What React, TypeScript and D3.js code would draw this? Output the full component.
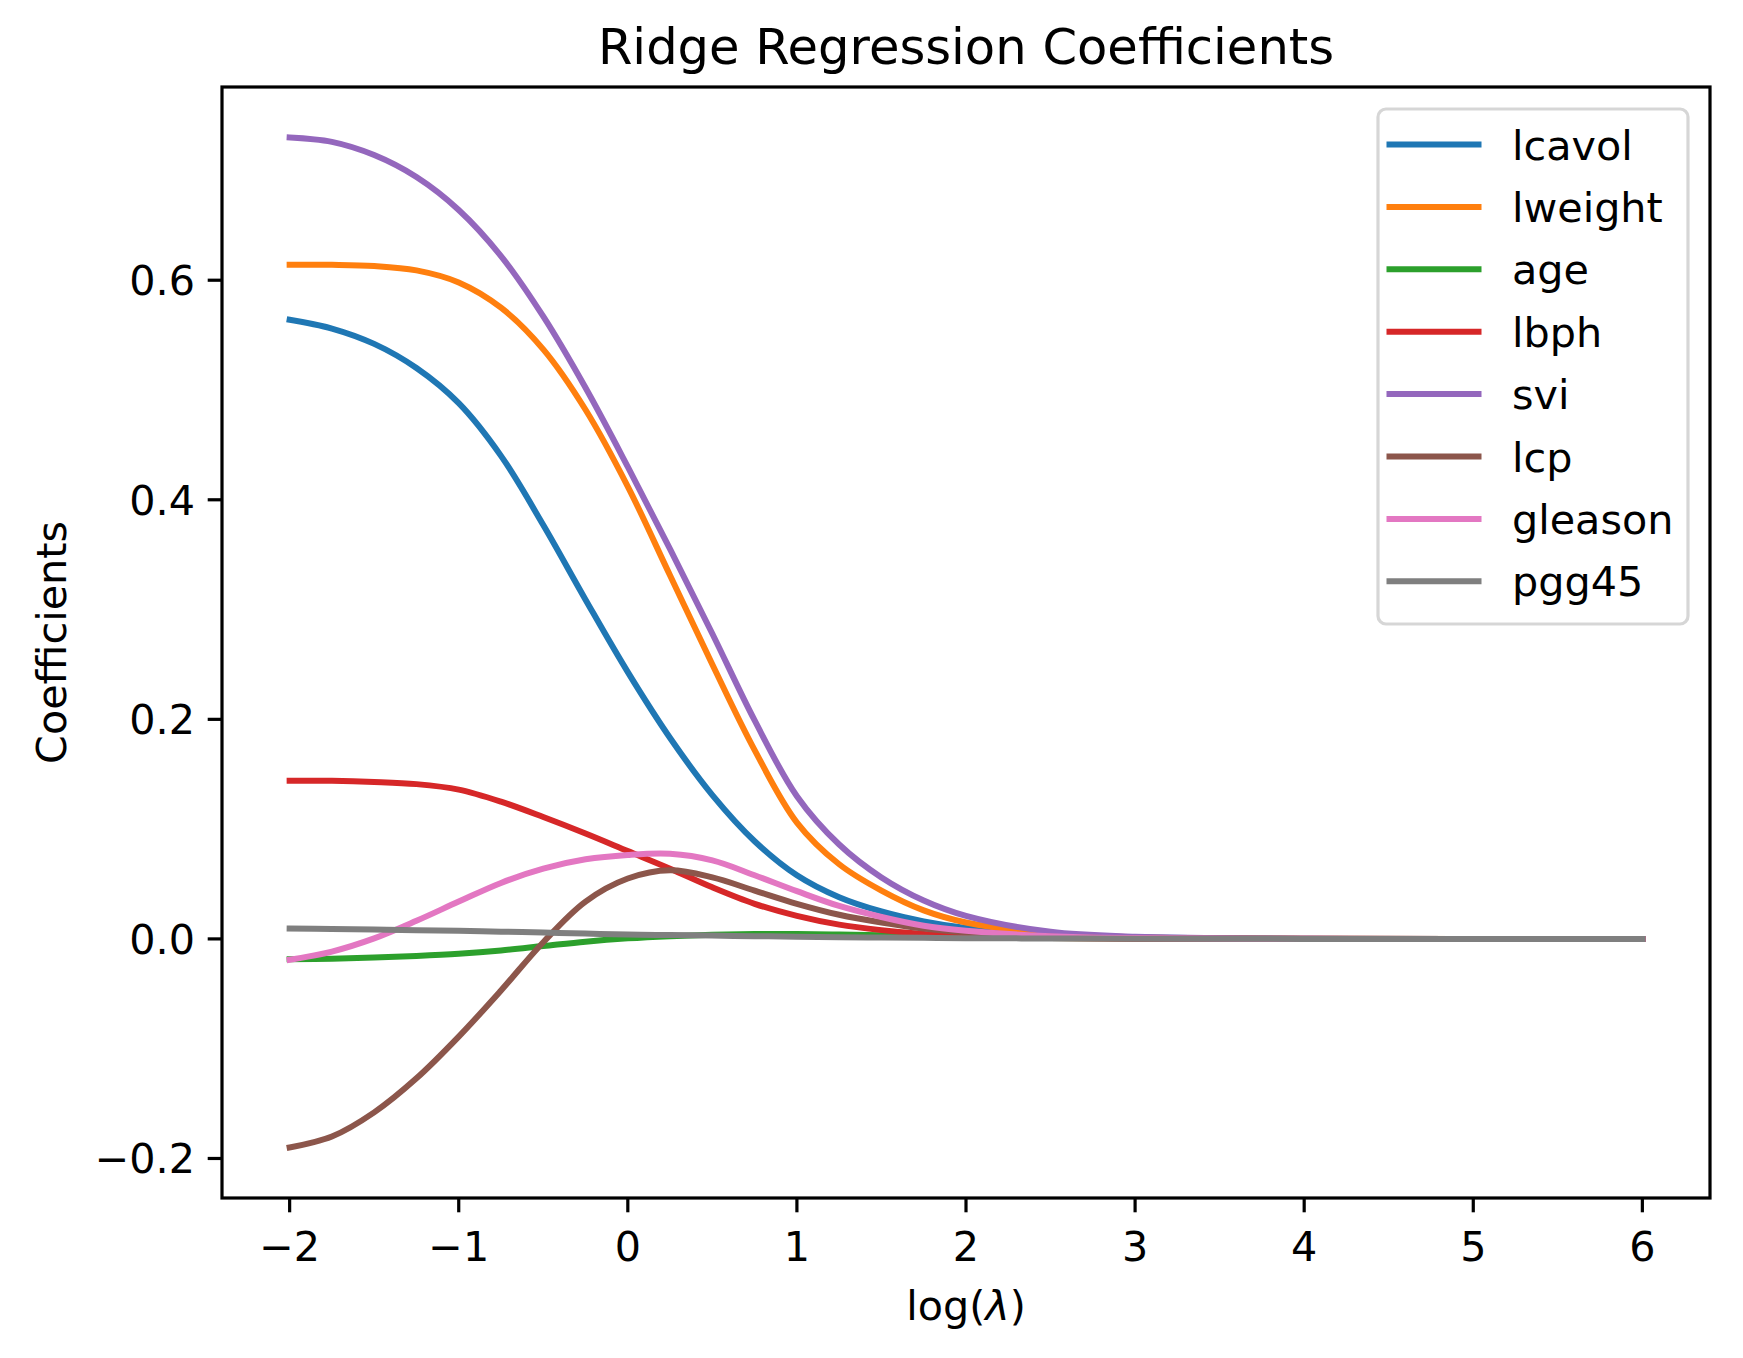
import React from "react";
import * as d3 from "d3";

const logLambda = [-2, -1.75, -1.5, -1.25, -1, -0.75, -0.5, -0.25, 0, 0.25, 0.5, 0.75, 1, 1.25, 1.5, 1.75, 2, 2.5, 3, 4, 5, 6];

const lcavol = [0.564, 0.556, 0.542, 0.520, 0.488, 0.440, 0.377, 0.309, 0.243, 0.183, 0.131, 0.089, 0.058, 0.038, 0.025, 0.016, 0.010, 0.0035, 0.0012, 0.0001, 0, 0];
const lweight = [0.614, 0.614, 0.613, 0.609, 0.598, 0.575, 0.537, 0.482, 0.412, 0.331, 0.250, 0.172, 0.106, 0.068, 0.044, 0.026, 0.015, 0.005, 0.0015, 0.0002, 0, 0];
const age = [-0.0185, -0.018, -0.017, -0.0155, -0.0135, -0.0105, -0.0065, -0.0025, 0.0005, 0.0025, 0.0038, 0.0044, 0.0045, 0.004, 0.0033, 0.0025, 0.0018, 0.0008, 0.0003, 0.00003, 0, 0];
const lbph = [0.144, 0.144, 0.143, 0.141, 0.136, 0.125, 0.111, 0.096, 0.080, 0.064, 0.047, 0.032, 0.021, 0.013, 0.008, 0.0045, 0.0025, 0.0008, 0.0002, 0.00002, 0, 0];
const svi = [0.730, 0.726, 0.714, 0.694, 0.664, 0.622, 0.567, 0.502, 0.430, 0.355, 0.278, 0.199, 0.130, 0.086, 0.056, 0.035, 0.021, 0.0065, 0.002, 0.0002, 0, 0];
const lcp = [-0.190, -0.180, -0.158, -0.127, -0.089, -0.047, -0.003, 0.034, 0.055, 0.0625, 0.056, 0.044, 0.032, 0.022, 0.015, 0.0095, 0.006, 0.002, 0.0006, 0.00005, 0, 0];
const gleason = [-0.019, -0.0115, 0.0005, 0.0165, 0.034, 0.051, 0.064, 0.0725, 0.0765, 0.0775, 0.0715, 0.058, 0.0435, 0.030, 0.020, 0.012, 0.0075, 0.0025, 0.0008, 0.00005, 0, 0];
const pgg45 = [0.0095, 0.009, 0.0085, 0.008, 0.0075, 0.0066, 0.0058, 0.0049, 0.004, 0.0035, 0.003, 0.0025, 0.002, 0.0016, 0.0013, 0.001, 0.0007, 0.0004, 0.0002, 0.00002, 0, 0];

const seriesNames = ["lcavol", "lweight", "age", "lbph", "svi", "lcp", "gleason", "pgg45"];
const seriesValues = [lcavol, lweight, age, lbph, svi, lcp, gleason, pgg45];
const colors = ["#1f77b4", "#ff7f0e", "#2ca02c", "#d62728", "#9467bd", "#8c564b", "#e377c2", "#7f7f7f"];

const xTicks = [-2, -1, 0, 1, 2, 3, 4, 5, 6];
const yTicks = [-0.2, 0.0, 0.2, 0.4, 0.6];

const title = "Ridge Regression Coefficients";
const yLabel = "Coefficients";

const W = 1743;
const H = 1358;
const L = 222, R = 1710, T = 87, B = 1198;
const FS = 41.3;
const LW = 6;
const SW = 3.2;
const TL = 14.3;
const FONT = "'DejaVu Sans', sans-serif";

export default function App() {
  const xMin = d3.min(logLambda)!, xMax = d3.max(logLambda)!;
  const xPad = (xMax - xMin) * 0.05;
  const allY = seriesValues.flat();
  const yMin = d3.min(allY)!, yMax = d3.max(allY)!;
  const yPad = (yMax - yMin) * 0.05;
  const x = d3.scaleLinear().domain([xMin - xPad, xMax + xPad]).range([L, R]);
  const y = d3.scaleLinear().domain([yMin - yPad, yMax + yPad]).range([B, T]);

  const line = d3
    .line<number>()
    .x((_, i) => x(logLambda[i]))
    .y((d) => y(d))
    .curve(d3.curveCatmullRom.alpha(0.5));

  const fx = d3.format("d");
  const fy = d3.format(".1f");

  const legX = 1378, legY = 109, legW = 310, legH = 515;
  const row0 = 144.5, rowStep = 62.4;

  return (
    <svg width={W} height={H} style={{ position: "absolute", left: 0, top: 0, background: "#fff" }} fontFamily={FONT}>
      <rect x={0} y={0} width={W} height={H} fill="#fff" />
      <defs>
        <clipPath id="plotclip">
          <rect x={L} y={T} width={R - L} height={B - T} />
        </clipPath>
      </defs>
      <g clipPath="url(#plotclip)">
        {seriesValues.map((vals, i) => (
          <path key={seriesNames[i]} d={line(vals) || ""} fill="none" stroke={colors[i]} strokeWidth={LW} strokeLinecap="square" strokeLinejoin="round" />
        ))}
      </g>
      <rect x={L} y={T} width={R - L} height={B - T} fill="none" stroke="#000" strokeWidth={SW} strokeLinejoin="miter" />
      {xTicks.map((t) => (
        <g key={"x" + t}>
          <line x1={x(t)} x2={x(t)} y1={B} y2={B + TL} stroke="#000" strokeWidth={SW} />
          <text x={x(t)} y={1261} fontSize={FS} textAnchor="middle" fill="#000">{fx(t)}</text>
        </g>
      ))}
      {yTicks.map((t) => (
        <g key={"y" + t}>
          <line x1={L - TL} x2={L} y1={y(t)} y2={y(t)} stroke="#000" strokeWidth={SW} />
          <text x={L - 27} y={y(t) + 15} fontSize={FS} textAnchor="end" fill="#000">{fy(t)}</text>
        </g>
      ))}
      <text x={(L + R) / 2} y={64} fontSize={49.6} textAnchor="middle" fill="#000">{title}</text>
      <text x={(L + R) / 2} y={1320} fontSize={FS} textAnchor="middle" fill="#000">
        log(<tspan fontStyle="italic">λ</tspan>)
      </text>
      <text transform={`translate(66, ${(T + B) / 2}) rotate(-90)`} fontSize={FS} textAnchor="middle" fill="#000">{yLabel}</text>
      <rect x={legX} y={legY} width={legW} height={legH} rx={8} ry={8} fill="#fff" fillOpacity={0.8} stroke="#cccccc" strokeOpacity={0.8} strokeWidth={SW} />
      {seriesNames.map((name, i) => (
        <g key={"leg" + name}>
          <line x1={1389.5} x2={1478.5} y1={row0 + i * rowStep} y2={row0 + i * rowStep} stroke={colors[i]} strokeWidth={LW} strokeLinecap="square" />
          <text x={1512} y={row0 + i * rowStep + 15} fontSize={FS} fill="#000">{name}</text>
        </g>
      ))}
    </svg>
  );
}
